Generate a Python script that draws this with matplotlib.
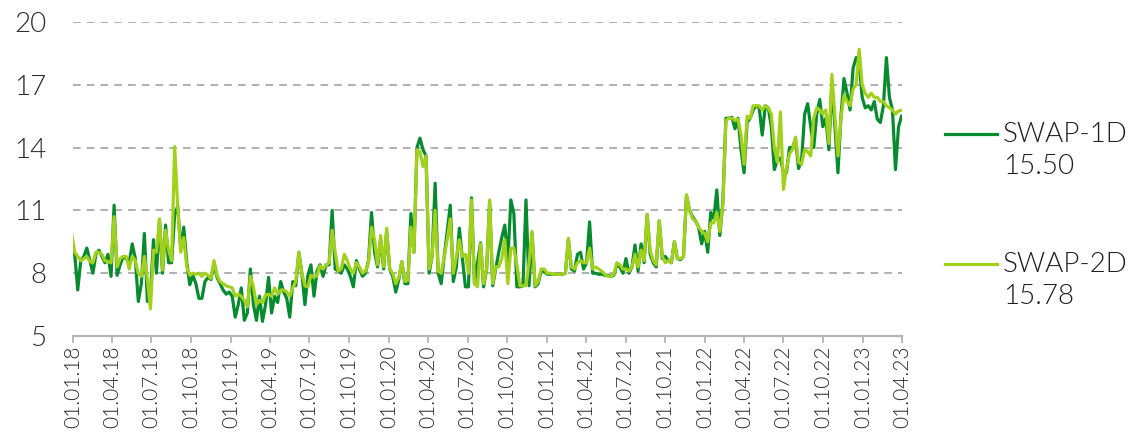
import pandas as pd
import matplotlib
matplotlib.use("Agg")
import matplotlib.pyplot as plt
import matplotlib.dates as mdates
from matplotlib.lines import Line2D

plt.rcParams['font.family'] = ['Lato', 'DejaVu Sans']
plt.rcParams['font.weight'] = 300

# weekly closes, SWAP-1D and SWAP-2D
swap_1d = [
    9.4, 8.9, 7.2, 8.6, 8.8, 9.2, 8.6, 8.0, 8.9, 9.1,
    8.8, 8.5, 8.9, 7.85, 11.25, 7.9, 8.4, 8.8, 8.7, 8.5,
    9.4, 8.7, 6.65, 7.5, 9.9, 6.65, 6.9, 9.6, 8.0, 10.55,
    8.0, 10.3, 8.5, 8.5, 10.8, 11.2, 9.2, 10.2, 8.5, 7.45,
    7.9, 7.5, 6.8, 6.8, 7.6, 7.8, 7.7, 8.5, 7.8, 7.5,
    7.2, 7.0, 7.1, 6.9, 5.9, 6.5, 7.3, 5.75, 6.1, 8.2,
    6.5, 5.75, 6.9, 5.7, 6.5, 7.8, 6.1, 6.9, 6.6, 7.6,
    7.1, 6.8, 5.9, 7.6, 7.4, 9.0, 8.0, 6.5, 7.9, 8.4,
    6.9, 8.1, 8.4, 7.85, 8.4, 8.4, 11.0, 8.2, 8.1, 8.0,
    8.4, 8.2, 7.85, 7.35, 8.6, 8.2, 7.85, 8.0, 8.6, 10.9,
    9.0, 8.3, 9.6, 8.2, 10.0, 8.2, 7.85, 7.1, 7.7, 8.55,
    7.5, 7.5, 10.85, 9.0, 14.0, 14.45, 13.9, 13.6, 8.0, 8.8,
    12.3, 8.0, 7.5, 8.8, 10.0, 11.25, 7.6, 8.3, 10.15, 8.7,
    7.35, 7.35, 11.6, 7.5, 8.5, 9.45, 7.35, 8.2, 11.4, 7.4,
    8.2, 9.0, 9.7, 10.3, 8.6, 11.5, 10.85, 7.35, 7.35, 7.4,
    11.5, 7.4, 9.9, 7.35, 7.5, 8.1, 8.1, 7.95, 7.95, 7.95,
    7.95, 7.95, 7.95, 8.0, 9.6, 8.2, 8.1, 8.9, 9.0, 8.2,
    8.5, 10.45, 8.0, 8.0, 7.95, 7.95, 7.9, 7.9, 7.85, 7.9,
    8.4, 8.3, 8.0, 8.7, 8.0, 8.3, 9.35, 8.1, 9.4, 8.5,
    10.8, 8.9, 8.5, 8.3, 10.5, 8.7, 8.8, 8.6, 8.5, 9.5,
    8.7, 8.65, 8.8, 11.7, 11.0, 10.7, 10.5, 10.2, 9.4, 10.0,
    9.0, 10.9, 10.6, 11.98, 9.8, 11.4, 15.4, 15.4, 15.45, 14.9,
    15.4, 13.9, 12.8, 15.2, 15.4, 15.8, 16.0, 15.9, 14.6, 16.0,
    15.9, 15.0, 12.95, 13.4, 13.5, 12.8, 12.8, 14.0, 14.0, 14.4,
    13.0, 13.4, 15.6, 16.1, 15.0, 14.0, 15.6, 16.3, 15.0, 15.4,
    13.9, 17.0, 15.0, 12.8, 15.5, 17.3, 16.6, 15.8, 17.8, 18.3,
    18.0, 16.4, 15.9, 16.0, 15.8, 16.2, 15.35, 15.2, 16.0, 18.3,
    16.4, 15.8, 12.95, 15.0, 15.50,
]
swap_2d = [
    9.9, 9.0, 8.8, 8.6, 8.7, 8.8, 8.55, 8.5, 9.0, 9.0,
    8.9, 8.6, 8.55, 8.5, 10.7, 8.3, 8.7, 8.8, 8.8, 8.2,
    8.8, 8.6, 8.0, 7.85, 8.8, 7.7, 6.3, 9.1, 9.0, 10.6,
    8.15, 10.05, 9.1, 8.6, 14.05, 11.2, 9.0, 9.7, 8.3, 7.9,
    8.0, 7.95, 8.0, 7.85, 8.0, 7.9, 7.75, 8.6, 7.9, 7.6,
    7.5, 7.4, 7.35, 7.3, 6.9, 7.0, 6.9, 6.7, 6.4, 7.85,
    7.35, 6.5, 6.7, 6.6, 6.95, 7.0, 6.9, 7.3, 7.0, 7.2,
    7.2, 7.1, 6.9, 7.3, 7.6, 9.0, 8.0, 7.4, 7.35, 7.9,
    7.8, 7.9, 8.35, 8.2, 8.4, 8.5, 10.05, 9.0, 8.1, 8.2,
    8.9, 8.6, 8.2, 8.0, 8.5, 8.3, 8.0, 8.1, 8.5, 10.2,
    9.6, 8.4, 9.8, 8.3, 10.15, 8.2, 8.0, 7.5, 7.8, 8.55,
    7.6, 7.65, 10.2, 9.0, 13.9, 13.8, 13.1, 13.6, 8.2, 8.8,
    11.0, 8.1, 8.0, 8.8, 9.6, 10.6, 8.0, 8.8, 9.6, 8.8,
    8.9, 8.0, 11.5, 7.5, 7.35, 9.4, 7.5, 8.2, 11.5, 7.5,
    8.3, 8.3, 8.7, 9.6, 7.5, 9.2, 9.2, 8.4, 7.4, 7.4,
    7.4, 8.5, 10.0, 7.4, 7.6, 8.2, 8.2, 8.0, 8.0, 7.95,
    7.95, 7.95, 7.95, 8.0, 9.67, 8.3, 8.2, 8.5, 8.6, 8.5,
    8.5, 9.2, 8.2, 8.3, 8.2, 8.1, 7.95, 7.85, 7.85, 7.95,
    8.5, 8.4, 8.2, 8.2, 8.1, 8.3, 8.9, 8.3, 9.1, 8.6,
    10.8, 9.1, 8.6, 8.4, 10.5, 8.8, 8.5, 8.6, 8.5, 9.5,
    8.7, 8.7, 8.8, 11.75, 11.0, 10.6, 10.5, 10.2, 10.0, 9.9,
    9.5, 10.4, 10.4, 10.9, 10.0, 11.3, 15.3, 15.4, 15.4, 15.3,
    15.35, 14.6, 13.2, 15.5, 15.4, 16.0, 16.0, 16.0, 15.8, 16.0,
    15.9, 15.6, 14.0, 13.3, 15.7, 12.0, 13.0, 13.7, 13.9, 14.5,
    13.3, 13.2, 13.9, 13.8, 13.6, 15.4, 15.9, 15.8, 15.6, 15.8,
    14.2, 17.5, 15.5, 13.6, 15.4, 16.5, 16.2, 16.0, 16.8, 17.0,
    18.7, 17.0, 16.6, 16.4, 16.6, 16.4, 16.4, 16.2, 16.2, 16.0,
    15.9, 15.8, 15.6, 15.75, 15.78,
]
dates = pd.date_range(end='2023-03-31', periods=len(swap_1d), freq='7D')

series_names = ['SWAP-1D', 'SWAP-2D']
colors = ['#078B2F', '#A2D11C']
y_ticks = [5, 8, 11, 14, 17, 20]

fig = plt.figure(figsize=(11.35, 4.34), dpi=100)
ax = fig.add_axes([0.0643, 0.2258, 0.7304, 0.7235])

ax.plot(dates, swap_1d, color=colors[0], lw=2.3, solid_joinstyle='round')
ax.plot(dates, swap_2d, color=colors[1], lw=2.3, solid_joinstyle='round')

ax.set_ylim(5, 20)
ax.set_yticks(y_ticks)
ax.set_xlim(pd.Timestamp('2018-01-01'), pd.Timestamp('2023-04-01'))
ax.xaxis.set_major_locator(mdates.MonthLocator(bymonth=[1, 4, 7, 10], bymonthday=1))
ax.xaxis.set_major_formatter(mdates.DateFormatter('%d.%m.%y'))

for gy in y_ticks[1:]:
    ax.axhline(gy, color='#9a9a9a', lw=1.1, ls=(0, (5, 4)), zorder=0)

for side in ['left', 'right', 'top']:
    ax.spines[side].set_visible(False)
ax.spines['bottom'].set_color('#b5b5b5')
ax.spines['bottom'].set_linewidth(1.6)

ax.tick_params(axis='y', length=0, pad=19, labelsize=20, labelcolor='#2b2b2b')
ax.tick_params(axis='x', length=5, width=1.3, color='#b5b5b5', pad=2,
               labelsize=15, labelcolor='#2b2b2b', labelrotation=90)

# legend on the right: line, name and latest value
last_vals = [swap_1d[-1], swap_2d[-1]]
for k, (name, c, v) in enumerate(zip(series_names, colors, last_vals)):
    y0 = 1 - 134 / 434 - k * 130 / 434
    fig.add_artist(Line2D([945 / 1135, 997 / 1135], [y0, y0], color=c, lw=2.3))
    fig.text(1003 / 1135, y0, name, fontsize=20, color='#1e1e1e', va='center')
    fig.text(1003 / 1135, y0 - 33 / 434, f'{v:.2f}', fontsize=20,
             color='#1e1e1e', va='center')

fig.savefig('out.png', dpi=100)
